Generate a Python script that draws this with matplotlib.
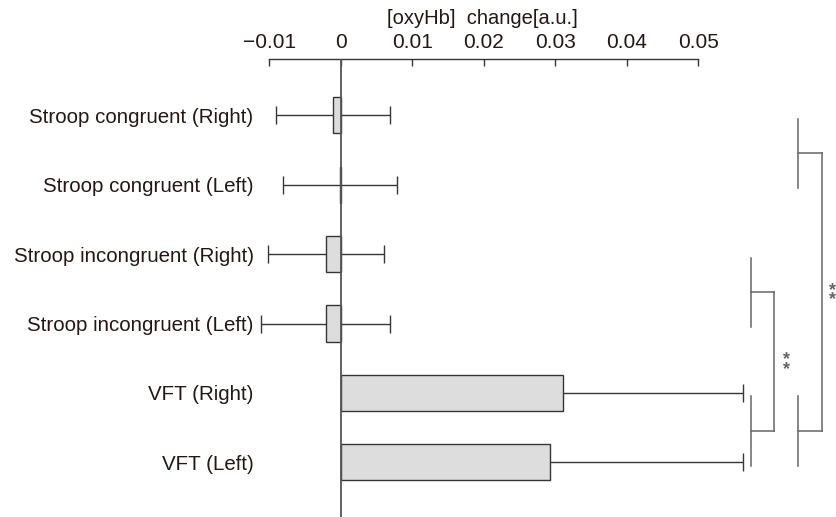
import matplotlib.pyplot as plt
import numpy as np

plt.rcParams['font.family'] = ['Liberation Sans', 'DejaVu Sans']

# data
conditions = [
    'Stroop congruent (Right)',
    'Stroop congruent (Left)',
    'Stroop incongruent (Right)',
    'Stroop incongruent (Left)',
    'VFT (Right)',
    'VFT (Left)',
]
means = [-0.0011, -0.0001, -0.0021, -0.0021, 0.0311, 0.0293]
errors = [0.0080, 0.0080, 0.0081, 0.0090, 0.0252, 0.0270]
x_ticks = [-0.01, 0, 0.01, 0.02, 0.03, 0.04, 0.05]
x_tick_labels = ['−0.01', '0', '0.01', '0.02', '0.03', '0.04', '0.05']
# significance: (first pair of rows, second pair of rows)
comparisons = [((2, 3), (4, 5)), ((0, 1), (4, 5))]

text_col = '#231815'

fig = plt.figure(figsize=(8.36, 5.17), dpi=100)
ax = fig.add_axes([0.3049, 0.0, 0.6842, 0.8868])

y = np.arange(len(conditions))

ax.errorbar(means, y, xerr=errors, fmt='none', ecolor='#3a3535',
            elinewidth=1.0, capsize=6.5, capthick=1.0, zorder=1)
ax.barh(y, means, height=0.52, color='#dcdddc', edgecolor='#3a3535',
        linewidth=1.0, zorder=2)
ax.axvline(0, color='#555555', linewidth=1.3, zorder=3)

ax.set_xlim(-0.012, 0.068)
ax.set_ylim(5.788, -0.818)

# top axis only
for side in ['left', 'right', 'bottom']:
    ax.spines[side].set_visible(False)
ax.spines['top'].set_bounds(-0.01, 0.05)
ax.spines['top'].set_color('#3a3535')
ax.spines['top'].set_linewidth(1.0)
ax.xaxis.tick_top()
ax.xaxis.set_label_position('top')
ax.set_xticks(x_ticks)
ax.set_xticklabels(x_tick_labels)
ax.tick_params(axis='x', direction='in', length=5, width=1.0,
               color='#3a3535', labelsize=15, labelcolor=text_col, pad=5)
ax.set_xlabel('[oxyHb]  change[a.u.]', fontsize=14.5, color=text_col,
              labelpad=6)
ax.xaxis.label.set_x(0.3975)

ax.set_yticks(y)
ax.set_yticklabels(conditions)
ax.tick_params(axis='y', length=0, labelsize=14.8, labelcolor=text_col,
               pad=1)

# significance brackets
bracket_col = '#666666'
inner_x = [0.0574, 0.0606, 0.0624]
outer_x = [0.0640, 0.0673, 0.0688]
for (top, bottom), (xs, xl, xt) in zip(comparisons, [inner_x, outer_x]):
    mids = []
    for a, b in (top, bottom):
        ax.plot([xs, xs], [a + 0.05, b + 0.05], color=bracket_col,
                linewidth=1.1, clip_on=False)
        mid = (a + b) / 2 + 0.05
        ax.plot([xs, xl], [mid, mid], color=bracket_col, linewidth=1.1,
                clip_on=False)
        mids.append(mid)
    ax.plot([xl, xl], mids, color=bracket_col, linewidth=1.1, clip_on=False)
    ax.text(xt, np.mean(mids) + 0.04, '*\n*', ha='center', va='center',
            linespacing=0.42, fontsize=13, fontweight='bold',
            color='#666666', clip_on=False)

fig.savefig('out.png', dpi=100)
